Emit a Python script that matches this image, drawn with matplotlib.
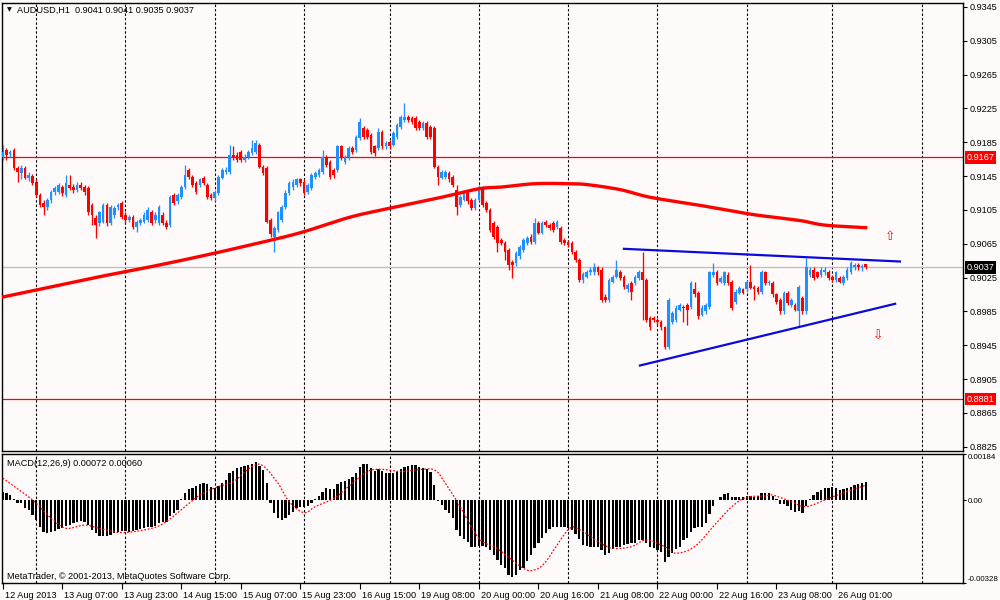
import matplotlib
matplotlib.use("Agg")
import matplotlib.pyplot as plt
import numpy as np
from matplotlib.transforms import blended_transform_factory, ScaledTranslation

plt.rcParams['font.family'] = ['Liberation Sans', 'DejaVu Sans']

# ---------------- data (prices x 10000) ----------------
symbol_title = "AUDUSD,H1  0.9041 0.9041 0.9035 0.9037"
macd_title = "MACD(12,26,9) 0.00072 0.00060"
copyright_txt = "MetaTrader, \u00a9 2001-2013, MetaQuotes Software Corp."

opens_pts = [
    9167, 9176, 9171, 9176, 9155, 9149, 9155, 9143, 9145, 9138,
    9123, 9113, 9109, 9117, 9126, 9126, 9132, 9123, 9135, 9132,
    9129, 9135, 9132, 9131, 9111, 9096, 9090, 9091, 9111, 9090,
    9099, 9109, 9113, 9099, 9093, 9097, 9085, 9090, 9091, 9093,
    9102, 9093, 9090, 9099, 9090, 9087, 9123, 9115, 9120, 9132,
    9152, 9144, 9137, 9135, 9143, 9135, 9123, 9119, 9125, 9143,
    9150, 9150, 9170, 9170, 9174, 9164, 9168, 9172, 9174, 9182,
    9156, 9155, 9093, 9073, 9081, 9093, 9109, 9125, 9132, 9135,
    9141, 9138, 9126, 9131, 9144, 9146, 9150, 9168, 9162, 9152,
    9152, 9180, 9162, 9167, 9178, 9176, 9190, 9202, 9200, 9194,
    9180, 9178, 9197, 9180, 9185, 9182, 9191, 9203, 9211, 9215,
    9214, 9214, 9209, 9202, 9208, 9203, 9202, 9156, 9143, 9144,
    9149, 9144, 9129, 9111, 9117, 9125, 9117, 9107, 9117, 9131,
    9113, 9105, 9090, 9085, 9070, 9066, 9058, 9044, 9042, 9050,
    9058, 9066, 9073, 9067, 9090, 9078, 9091, 9087, 9090, 9085,
    9084, 9070, 9067, 9066, 9055, 9046, 9022, 9026, 9031, 9031,
    9037, 9034, 9002, 8999, 9020, 9026, 9032, 9026, 9011, 9019,
    9019, 9025, 9031, 9022, 8977, 8977, 8975, 8973, 8966, 8943,
    8973, 8975, 8987, 8990, 8993, 8990, 9011, 9007, 8981, 8985,
    8990, 9028, 9032, 9020, 9019, 9028, 9020, 8996, 9007, 9011,
    9011, 9020, 9014, 9013, 9008, 9031, 9019, 9019, 9005, 8999,
    8985, 9007, 8993, 8993, 8985, 9001, 8985, 9028, 9034, 9031,
    9028, 9031, 9032, 9026, 9022, 9025, 9019, 9025, 9032, 9037,
    9040, 9037, 9041]

highs_pts = [
    9182, 9178, 9176, 9178, 9157, 9158, 9157, 9150, 9148, 9141,
    9125, 9117, 9119, 9129, 9133, 9137, 9135, 9146, 9146, 9136,
    9138, 9138, 9135, 9133, 9113, 9099, 9104, 9113, 9113, 9111,
    9110, 9113, 9116, 9102, 9099, 9099, 9093, 9096, 9102, 9109,
    9105, 9102, 9111, 9103, 9093, 9123, 9125, 9125, 9135, 9158,
    9155, 9146, 9139, 9143, 9145, 9137, 9125, 9129, 9146, 9155,
    9156, 9182, 9180, 9174, 9176, 9171, 9176, 9188, 9188, 9184,
    9158, 9157, 9096, 9086, 9104, 9111, 9128, 9139, 9141, 9143,
    9143, 9141, 9137, 9149, 9151, 9155, 9176, 9170, 9164, 9155,
    9182, 9182, 9170, 9181, 9181, 9194, 9214, 9204, 9202, 9196,
    9182, 9202, 9200, 9187, 9188, 9198, 9208, 9217, 9232, 9217,
    9216, 9216, 9211, 9210, 9210, 9206, 9204, 9158, 9152, 9152,
    9151, 9146, 9135, 9123, 9128, 9128, 9119, 9119, 9135, 9133,
    9116, 9107, 9092, 9087, 9072, 9068, 9060, 9046, 9057, 9064,
    9072, 9074, 9076, 9096, 9092, 9092, 9093, 9090, 9092, 9093,
    9086, 9072, 9070, 9068, 9058, 9048, 9032, 9034, 9037, 9042,
    9039, 9037, 9005, 9025, 9028, 9046, 9034, 9028, 9019, 9021,
    9028, 9034, 9055, 9025, 8980, 8980, 8977, 8975, 8968, 9001,
    8986, 8992, 8995, 8993, 8995, 9021, 9020, 9009, 8992, 8995,
    9033, 9042, 9034, 9027, 9033, 9031, 9022, 9011, 9015, 9013,
    9022, 9040, 9016, 9015, 9034, 9033, 9022, 9021, 9007, 9001,
    9009, 9009, 9001, 8995, 9016, 9003, 9048, 9037, 9037, 9033,
    9037, 9037, 9034, 9028, 9033, 9027, 9028, 9037, 9045, 9042,
    9042, 9041, 9041]

lows_pts = [
    9164, 9164, 9168, 9152, 9138, 9141, 9141, 9139, 9135, 9120,
    9109, 9099, 9105, 9113, 9123, 9124, 9122, 9120, 9128, 9125,
    9126, 9128, 9123, 9099, 9087, 9072, 9086, 9089, 9086, 9087,
    9096, 9105, 9094, 9090, 9091, 9083, 9079, 9087, 9089, 9091,
    9087, 9090, 9087, 9087, 9083, 9085, 9111, 9112, 9118, 9130,
    9141, 9132, 9124, 9132, 9135, 9118, 9117, 9116, 9123, 9141,
    9148, 9148, 9164, 9162, 9162, 9162, 9165, 9170, 9171, 9154,
    9146, 9089, 9073, 9055, 9079, 9091, 9106, 9123, 9129, 9132,
    9133, 9123, 9124, 9129, 9142, 9144, 9148, 9156, 9142, 9143,
    9150, 9164, 9159, 9164, 9171, 9174, 9188, 9189, 9189, 9171,
    9169, 9176, 9177, 9177, 9177, 9180, 9189, 9201, 9209, 9209,
    9207, 9200, 9200, 9200, 9189, 9189, 9154, 9135, 9141, 9142,
    9138, 9132, 9099, 9109, 9115, 9112, 9105, 9105, 9115, 9109,
    9103, 9079, 9071, 9055, 9063, 9046, 9034, 9025, 9039, 9047,
    9055, 9064, 9065, 9065, 9076, 9076, 9085, 9081, 9079, 9083,
    9065, 9064, 9061, 9053, 9044, 9020, 9019, 9024, 9028, 9028,
    9028, 8996, 8996, 8996, 9018, 9024, 9022, 9012, 9008, 8999,
    9016, 9022, 8975, 8973, 8963, 8972, 8969, 8963, 8940, 8941,
    8970, 8973, 8985, 8972, 8969, 8988, 9002, 8976, 8979, 8982,
    8988, 9026, 9016, 9018, 9016, 9016, 8987, 8994, 9005, 9005,
    9008, 9011, 8999, 9006, 9006, 9016, 9016, 9002, 8994, 8982,
    8982, 8993, 8990, 8985, 8967, 8982, 8982, 9026, 9022, 9024,
    9026, 9028, 9022, 9020, 9020, 9018, 9016, 9022, 9029, 9034,
    9034, 9033, 9035]

closes_pts = [
    9174, 9170, 9174, 9155, 9150, 9155, 9143, 9146, 9137, 9123,
    9111, 9109, 9117, 9126, 9131, 9135, 9125, 9137, 9131, 9129,
    9135, 9131, 9126, 9102, 9099, 9087, 9102, 9111, 9090, 9109,
    9107, 9111, 9097, 9093, 9097, 9085, 9091, 9093, 9099, 9105,
    9090, 9099, 9109, 9090, 9085, 9120, 9113, 9123, 9132, 9146,
    9144, 9135, 9126, 9141, 9137, 9120, 9119, 9126, 9144, 9152,
    9152, 9170, 9167, 9164, 9164, 9168, 9174, 9178, 9184, 9156,
    9149, 9091, 9076, 9084, 9102, 9109, 9125, 9137, 9138, 9141,
    9137, 9125, 9135, 9146, 9149, 9152, 9168, 9158, 9144, 9146,
    9180, 9167, 9168, 9178, 9174, 9191, 9209, 9191, 9191, 9174,
    9172, 9197, 9180, 9184, 9180, 9196, 9206, 9215, 9215, 9211,
    9209, 9202, 9202, 9208, 9191, 9191, 9156, 9144, 9150, 9150,
    9141, 9135, 9109, 9120, 9125, 9115, 9107, 9117, 9132, 9111,
    9105, 9081, 9073, 9066, 9066, 9055, 9040, 9040, 9054, 9061,
    9070, 9072, 9067, 9090, 9078, 9090, 9087, 9084, 9081, 9091,
    9067, 9066, 9064, 9055, 9046, 9022, 9029, 9032, 9034, 9038,
    9031, 8999, 8999, 9022, 9026, 9034, 9025, 9014, 9016, 9008,
    9026, 9032, 9022, 8975, 8966, 8975, 8973, 8966, 8943, 8999,
    8983, 8989, 8993, 8989, 8987, 9019, 9005, 8979, 8989, 8993,
    9031, 9032, 9019, 9025, 9031, 9019, 8989, 9008, 9013, 9007,
    9020, 9013, 9011, 9008, 9032, 9019, 9020, 9005, 8996, 8985,
    9007, 8995, 8999, 8987, 9014, 8985, 9037, 9034, 9025, 9026,
    9034, 9034, 9025, 9022, 9031, 9020, 9026, 9034, 9042, 9040,
    9037, 9039, 9037]

# moving average (bar index, price x 10000)
ma_idx = [0, 13, 26, 40, 53, 67, 80, 93, 104, 118, 128, 134, 143, 152, 157,
          166, 174, 188, 201, 208, 215, 221, 232]
ma_pts = [9002, 9014, 9026, 9038, 9050, 9064, 9078, 9096, 9107, 9120, 9130, 9132,
          9136, 9136, 9135, 9129, 9120, 9110, 9100, 9096, 9092, 9087, 9084]

# MACD main (histogram), units of 1e-5
macd_hist_e5 = [
    32, 31, 21, 6, -9, -12, -31, -38, -58, -78,
    -104, -124, -130, -127, -120, -115, -111, -102, -98, -91,
    -84, -80, -84, -98, -117, -130, -143, -141, -143, -137,
    -130, -124, -120, -121, -124, -121, -117, -115, -108, -107,
    -104, -102, -91, -84, -84, -62, -49, -38, 4, 31,
    44, 51, 57, 65, 70, 64, 55, 51, 57, 68,
    81, 107, 118, 127, 134, 138, 142, 144, 154, 137,
    121, 68, -12, -51, -71, -78, -71, -58, -45, -31,
    -27, -25, -22, -12, 4, 17, 35, 48, 44, 44,
    65, 74, 78, 84, 92, 107, 131, 143, 144, 127,
    118, 123, 118, 110, 110, 107, 114, 123, 134, 137,
    141, 141, 131, 127, 123, 114, 61, -2, -18, -38,
    -51, -71, -117, -143, -154, -164, -186, -186, -181, -181,
    -186, -199, -217, -236, -256, -270, -296, -303, -296, -276,
    -267, -239, -217, -190, -170, -151, -130, -115, -107, -104,
    -107, -107, -111, -117, -135, -155, -177, -181, -184, -184,
    -186, -197, -217, -210, -194, -186, -184, -177, -173, -170,
    -168, -157, -157, -170, -184, -190, -197, -203, -243, -223,
    -210, -194, -184, -157, -151, -124, -111, -107, -104, -91,
    -54, -22, 2, 15, 25, 31, 15, 12, 12, 12,
    17, 17, 15, 17, 28, 28, 28, 17, 4, -14,
    -14, -22, -38, -45, -41, -49, -22, 4, 21, 35,
    41, 48, 48, 52, 48, 41, 44, 51, 55, 61,
    65, 70, 72]

# MACD signal line (bar index, units of 1e-5)
sig_idx = [0, 8, 13, 17, 22, 26, 32, 40, 44, 49, 53, 58, 62, 67, 70, 74, 77, 81, 84,
           89, 93, 98, 102, 107, 111, 116, 119, 123, 128, 133, 140, 143, 146, 152,
           155, 160, 164, 169, 173, 178, 181, 186, 191, 196, 200, 205, 207, 212,
           216, 222, 227, 232]
sig_e5 = [88, 2, -71, -111, -98, -111, -128, -111, -84, -25, 21, 55, 74, 134, 137, 68,
          -5, -49, -25, 8, 55, 114, 123, 114, 121, 121, 68, -25, -151, -192, -270,
          -276, -243, -117, -115, -164, -190, -184, -157, -184, -210, -184, -104,
          -25, 12, 17, 21, -5, -25, 8, 35, 60]

x_tick_idx = [0, 16, 32, 48, 64, 80, 96, 112, 128, 144, 160, 176, 192, 208, 224]
x_tick_labels = ["12 Aug 2013", "13 Aug 07:00", "13 Aug 23:00", "14 Aug 15:00",
                 "15 Aug 07:00", "15 Aug 23:00", "16 Aug 15:00", "19 Aug 08:00",
                 "20 Aug 00:00", "20 Aug 16:00", "21 Aug 08:00", "22 Aug 00:00",
                 "22 Aug 16:00", "23 Aug 08:00", "26 Aug 01:00"]
day_grid_idx = [9, 33, 57, 81, 104, 128, 152, 176, 200, 223, 247]
price_ticks = [0.9345, 0.9305, 0.9265, 0.9225, 0.9185, 0.9145, 0.9105, 0.9065,
               0.9025, 0.8985, 0.8945, 0.8905, 0.8865, 0.8825]
macd_ticks = [0.00184, 0.0, -0.00328]
macd_tick_labels = ["0.00184", "0.00", "-0.00328"]

level_high = 0.9167
level_low = 0.8881
bid_price = 0.9037

trend_upper_idx = [167.0, 241.2]
trend_upper_price = [0.9059, 0.9044]
trend_lower_idx = [171.3, 239.9]
trend_lower_price = [0.8921, 0.8994]
arrow_up = (238.5, 0.9073)
arrow_down = (235.3, 0.8956)


def smooth_curve(xs, ys, k=10):
    """Catmull-Rom rendering through the given points (drawing only)."""
    xs = np.asarray(xs, float)
    ys = np.asarray(ys, float)
    px = np.concatenate([[2 * xs[0] - xs[1]], xs, [2 * xs[-1] - xs[-2]]])
    py = np.concatenate([[2 * ys[0] - ys[1]], ys, [2 * ys[-1] - ys[-2]]])
    outx, outy = [], []
    t = np.linspace(0, 1, k, endpoint=False)
    for i in range(1, len(px) - 2):
        for P, out in ((px, outx), (py, outy)):
            p0, p1, p2, p3 = P[i - 1], P[i], P[i + 1], P[i + 2]
            out.extend(0.5 * (2 * p1 + (-p0 + p2) * t + (2 * p0 - 5 * p1 + 4 * p2 - p3) * t ** 2
                              + (-p0 + 3 * p1 - 3 * p2 + p3) * t ** 3))
    outx.append(xs[-1])
    outy.append(ys[-1])
    return np.array(outx), np.array(outy)


# ---------------- derived ----------------
o = np.array(opens_pts) / 10000.0
h = np.array(highs_pts) / 10000.0
l = np.array(lows_pts) / 10000.0
c = np.array(closes_pts) / 10000.0
n = len(c)
idx = np.arange(n)
ma = np.array(ma_pts) / 10000.0
hist = np.array(macd_hist_e5) * 1e-5
sig = np.array(sig_e5) * 1e-5

BG = '#FFFAFA'
BULL = '#1E90FF'
BEAR = '#FF0000'
FS = 6.6

fig = plt.figure(figsize=(10, 6), dpi=100, facecolor=BG)
ax = fig.add_axes([0.002, 1 - 451 / 600, 0.961, 448 / 600], facecolor=BG)
axm = fig.add_axes([0.002, 1 - 583 / 600, 0.961, 129 / 600], facecolor=BG)

xlim = (-0.19, 258.15)
for a in (ax, axm):
    a.set_xlim(*xlim)
    for s in a.spines.values():
        s.set_color('black')
        s.set_linewidth(1.0)
    for g in day_grid_idx:
        a.axvline(g, color='black', lw=0.8, ls=(0, (2.2, 1.8)), zorder=1)

# main panel
ax.set_ylim(0.88199, 0.93497)
ax.axhline(bid_price, color='#C0C0C0', lw=1.0, zorder=2)
ax.axhline(level_high, color='red', lw=0.9, zorder=2)
ax.axhline(level_low, color='red', lw=0.9, zorder=2)

colors = np.where(c >= o, BULL, BEAR)
ax.vlines(idx, l, h, colors=colors, lw=0.95, zorder=3)
body_bottom = np.minimum(o, c)
body_h = np.maximum(np.abs(c - o), 0.00007)
ax.bar(idx, body_h, bottom=body_bottom, width=0.72, color=colors, linewidth=0, zorder=4)

mx, my = smooth_curve(ma_idx, ma)
ax.plot(mx, my, color='red', lw=2.4, zorder=5, solid_joinstyle='round')
ax.plot(trend_upper_idx, trend_upper_price, color='#0A0ADC', lw=1.6, zorder=6)
ax.plot(trend_lower_idx, trend_lower_price, color='#0A0ADC', lw=1.6, zorder=6)
ax.text(arrow_up[0], arrow_up[1], '\u21e7', color='red', fontsize=9, ha='center',
        va='center', family='DejaVu Sans', zorder=7)
ax.text(arrow_down[0], arrow_down[1], '\u21e9', color='red', fontsize=9, ha='center',
        va='center', family='DejaVu Sans', zorder=7)

ax.yaxis.tick_right()
ax.set_yticks(price_ticks)
ax.set_yticklabels(["%.4f" % p for p in price_ticks])
ax.tick_params(axis='y', length=3, width=0.8, pad=2, labelsize=FS, colors='black')
ax.tick_params(axis='x', bottom=False, labelbottom=False)

tr = blended_transform_factory(ax.transAxes, ax.transData)
for val, fc in ((level_high, 'red'), (level_low, 'red'), (bid_price, 'black')):
    ax.text(1.0035, val, "%.4f" % val, transform=tr, ha='left', va='center',
            fontsize=FS, color='white', clip_on=False, zorder=10,
            bbox=dict(boxstyle='square,pad=0.18', fc=fc, ec='none'))

ax.text(0.0075, 0.984, '\u25bc', transform=ax.transAxes, fontsize=4.5, ha='center',
        va='center', color='black', family='DejaVu Sans')
ax.text(0.0156, 0.984, symbol_title, transform=ax.transAxes, fontsize=FS,
        ha='left', va='center', color='black')

# MACD panel
axm.set_ylim(-0.00328, 0.00184)
axm.bar(idx, hist, width=0.62, color='black', linewidth=0, zorder=3)
sx, sy = smooth_curve(sig_idx, sig, k=6)
axm.plot(sx, sy, color='red', lw=0.9, ls=(0, (1.4, 1.4)), zorder=4)
axm.yaxis.tick_right()
axm.set_yticks(macd_ticks)
axm.set_yticklabels(macd_tick_labels)
axm.tick_params(axis='y', length=2.5, width=0.8, pad=0.8, labelsize=5.7, colors='black')
yl = axm.get_yticklabels()
yl[0].set_va('top')
yl[2].set_va('bottom')

axm.set_xticks(x_tick_idx)
axm.set_xticklabels(x_tick_labels)
axm.tick_params(axis='x', length=4, width=0.8, pad=1.5, labelsize=FS, colors='black')
offset = ScaledTranslation(2 / 100, 0, fig.dpi_scale_trans)
for lab in axm.get_xticklabels():
    lab.set_ha('left')
    lab.set_transform(lab.get_transform() + offset)

axm.text(0.0052, 0.93, macd_title, transform=axm.transAxes, fontsize=FS,
         ha='left', va='center', color='black', zorder=8)
axm.text(0.0052, 0.054, copyright_txt, transform=axm.transAxes, fontsize=FS,
         ha='left', va='center', color='black', zorder=8)

fig.savefig('out.png', dpi=100, facecolor=BG)
